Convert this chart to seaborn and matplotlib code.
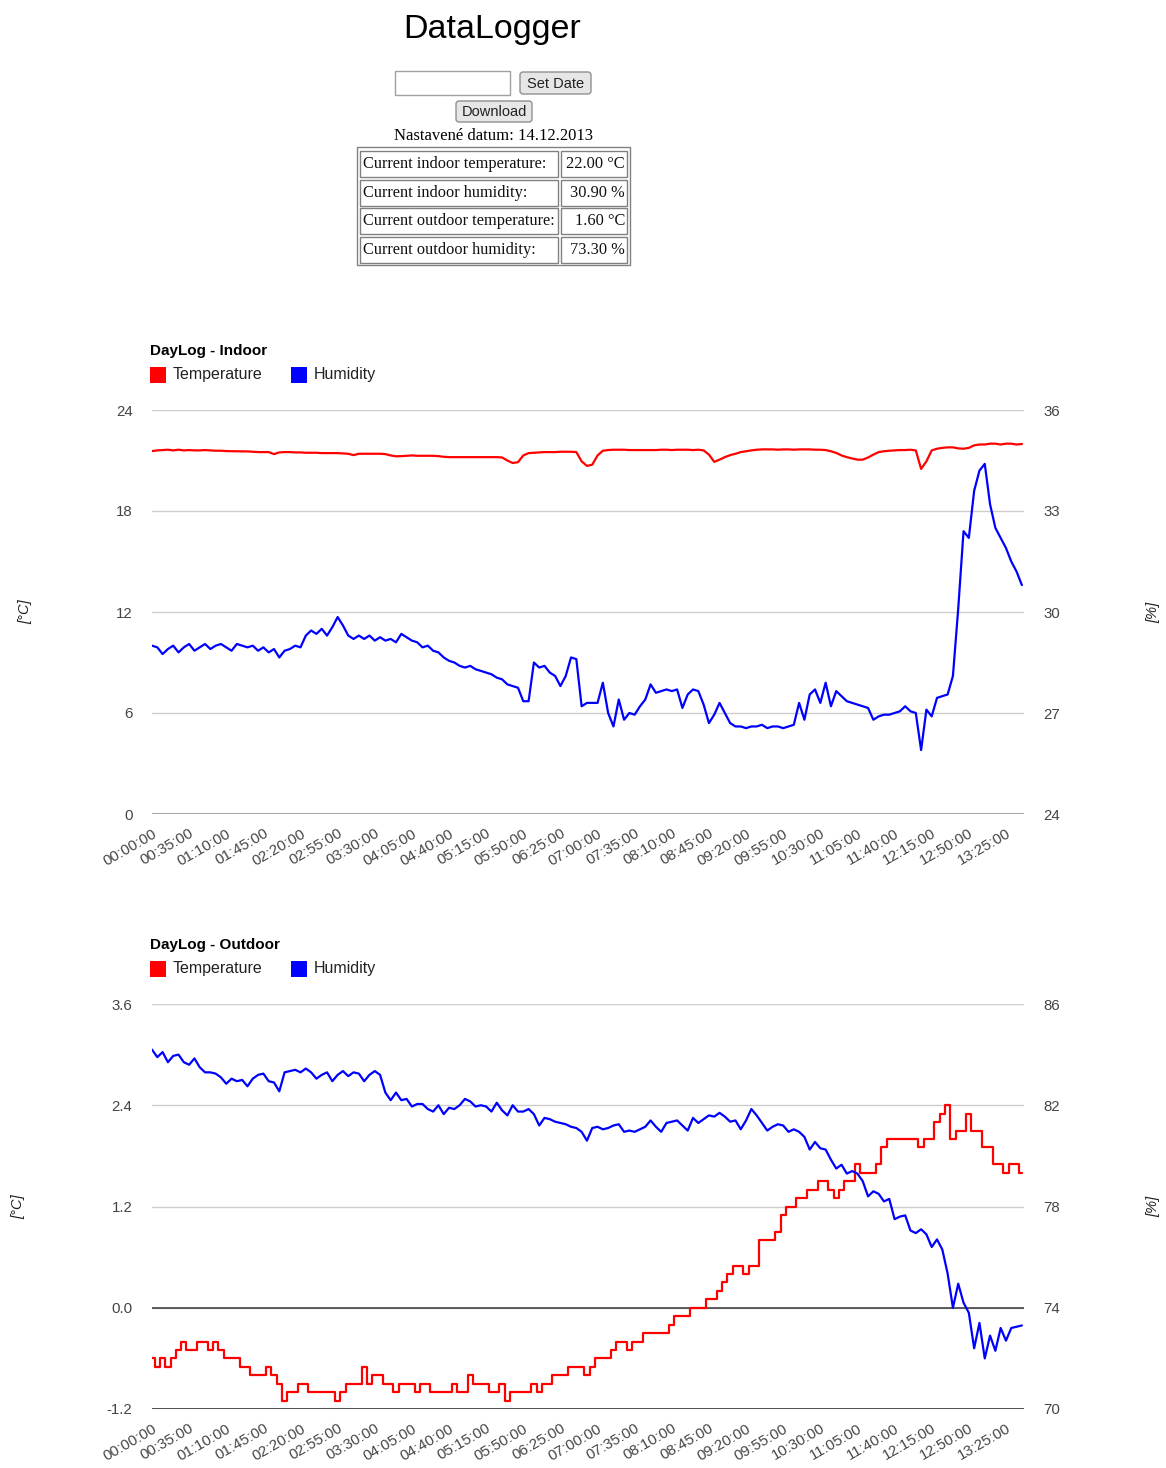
#!/usr/bin/env python3
"""DataLogger page - indoor/outdoor day log (14.12.2013)"""

import numpy as np
import pandas as pd
import matplotlib
matplotlib.use('Agg')
import matplotlib.pyplot as plt
from matplotlib.patches import Rectangle, FancyBboxPatch
from matplotlib.transforms import Affine2D
import seaborn as sns

# --- data (5 minute samples starting 00:00:00) ---
indoor_temp = [
    21.56, 21.6, 21.62, 21.64, 21.6, 21.64, 21.6, 21.62, 21.6, 21.6,
    21.62, 21.6, 21.58, 21.58, 21.56, 21.55, 21.55, 21.54, 21.54, 21.52,
    21.5, 21.5, 21.5, 21.38, 21.48, 21.5, 21.5, 21.48, 21.48, 21.46,
    21.46, 21.46, 21.44, 21.44, 21.44, 21.44, 21.42, 21.4, 21.32, 21.4,
    21.4, 21.4, 21.4, 21.4, 21.38, 21.3, 21.25, 21.26, 21.28, 21.3,
    21.28, 21.28, 21.28, 21.28, 21.26, 21.22, 21.2, 21.2, 21.2, 21.2,
    21.2, 21.2, 21.2, 21.2, 21.2, 21.2, 21.18, 21.0, 20.85, 20.9,
    21.3, 21.44, 21.46, 21.48, 21.5, 21.5, 21.5, 21.52, 21.52, 21.52,
    21.5, 20.95, 20.68, 20.75, 21.3, 21.58, 21.62, 21.64, 21.64, 21.64,
    21.62, 21.62, 21.62, 21.62, 21.62, 21.62, 21.64, 21.64, 21.62, 21.64,
    21.64, 21.64, 21.62, 21.64, 21.6, 21.35, 20.92, 21.05, 21.2, 21.32,
    21.4, 21.5, 21.55, 21.6, 21.64, 21.66, 21.66, 21.66, 21.64, 21.66,
    21.66, 21.64, 21.66, 21.66, 21.66, 21.64, 21.64, 21.62, 21.55, 21.45,
    21.3, 21.2, 21.12, 21.05, 21.05, 21.18, 21.35, 21.5, 21.55, 21.58,
    21.6, 21.62, 21.62, 21.64, 21.6, 20.5, 20.95, 21.6, 21.7, 21.75,
    21.78, 21.78, 21.72, 21.7, 21.75, 21.9, 21.95, 21.95, 22.0, 22.0,
    21.95, 22.0, 22.0, 21.95, 21.98,
]
indoor_humidity = [
    29.0, 28.95, 28.75, 28.9, 29.0, 28.8, 28.95, 29.05, 28.85, 28.95,
    29.05, 28.9, 29.0, 29.05, 28.95, 28.85, 29.05, 29.0, 28.95, 29.0,
    28.85, 28.95, 28.8, 28.9, 28.65, 28.85, 28.9, 29.0, 28.95, 29.3,
    29.45, 29.35, 29.5, 29.3, 29.55, 29.85, 29.6, 29.3, 29.2, 29.3,
    29.2, 29.3, 29.15, 29.25, 29.15, 29.2, 29.1, 29.35, 29.25, 29.15,
    29.1, 28.95, 29.0, 28.85, 28.8, 28.65, 28.55, 28.5, 28.4, 28.35,
    28.4, 28.3, 28.25, 28.2, 28.15, 28.05, 28.0, 27.85, 27.8, 27.75,
    27.35, 27.35, 28.5, 28.35, 28.4, 28.2, 28.1, 27.8, 28.1, 28.65,
    28.6, 27.2, 27.3, 27.3, 27.3, 27.9, 27.0, 26.6, 27.4, 26.8,
    27.0, 26.95, 27.2, 27.4, 27.85, 27.6, 27.65, 27.7, 27.65, 27.7,
    27.15, 27.55, 27.7, 27.65, 27.25, 26.7, 26.95, 27.3, 27.0, 26.7,
    26.6, 26.6, 26.55, 26.6, 26.6, 26.65, 26.55, 26.6, 26.6, 26.55,
    26.6, 26.65, 27.3, 26.8, 27.55, 27.7, 27.3, 27.9, 27.2, 27.65,
    27.5, 27.35, 27.3, 27.25, 27.2, 27.15, 26.8, 26.9, 26.95, 26.95,
    27.0, 27.05, 27.2, 27.05, 27.0, 25.9, 27.1, 26.9, 27.45, 27.5,
    27.55, 28.1, 30.1, 32.4, 32.2, 33.6, 34.2, 34.4, 33.2, 32.5,
    32.2, 31.9, 31.5, 31.2, 30.8,
]
outdoor_temp = [
    -0.6, -0.7, -0.6, -0.7, -0.6, -0.5, -0.4, -0.5, -0.5, -0.4,
    -0.4, -0.5, -0.4, -0.5, -0.6, -0.6, -0.6, -0.7, -0.7, -0.8,
    -0.8, -0.8, -0.7, -0.8, -0.9, -1.1, -1.0, -1.0, -0.9, -0.9,
    -1.0, -1.0, -1.0, -1.0, -1.0, -1.1, -1.0, -0.9, -0.9, -0.9,
    -0.7, -0.9, -0.8, -0.8, -0.9, -0.9, -1.0, -0.9, -0.9, -0.9,
    -1.0, -0.9, -0.9, -1.0, -1.0, -1.0, -1.0, -0.9, -1.0, -1.0,
    -0.8, -0.9, -0.9, -0.9, -1.0, -1.0, -0.9, -1.1, -1.0, -1.0,
    -1.0, -1.0, -0.9, -1.0, -0.9, -0.9, -0.8, -0.8, -0.8, -0.7,
    -0.7, -0.7, -0.8, -0.7, -0.6, -0.6, -0.6, -0.5, -0.4, -0.4,
    -0.5, -0.4, -0.4, -0.3, -0.3, -0.3, -0.3, -0.3, -0.2, -0.1,
    -0.1, -0.1, 0.0, 0.0, 0.0, 0.1, 0.1, 0.2, 0.3, 0.4,
    0.5, 0.5, 0.4, 0.5, 0.5, 0.8, 0.8, 0.8, 0.9, 1.1,
    1.2, 1.2, 1.3, 1.3, 1.4, 1.4, 1.5, 1.5, 1.4, 1.3,
    1.4, 1.5, 1.5, 1.7, 1.6, 1.6, 1.6, 1.7, 1.9, 2.0,
    2.0, 2.0, 2.0, 2.0, 2.0, 1.9, 2.0, 2.0, 2.2, 2.3,
    2.4, 2.0, 2.1, 2.1, 2.3, 2.1, 2.1, 1.9, 1.9, 1.7,
    1.7, 1.6, 1.7, 1.7, 1.6,
]
outdoor_humidity = [
    84.2, 83.9, 84.1, 83.7, 83.95, 84.0, 83.7, 83.6, 83.85, 83.5,
    83.3, 83.3, 83.25, 83.1, 82.85, 83.05, 82.95, 83.0, 82.75, 83.05,
    83.2, 83.25, 82.95, 82.9, 82.55, 83.3, 83.35, 83.4, 83.3, 83.45,
    83.3, 83.05, 83.2, 83.3, 82.95, 83.2, 83.35, 83.15, 83.3, 83.25,
    82.95, 83.2, 83.35, 83.2, 82.5, 82.2, 82.5, 82.2, 82.25, 81.95,
    82.05, 82.05, 81.85, 81.75, 82.0, 81.65, 81.9, 81.85, 82.0, 82.25,
    82.15, 81.95, 82.0, 81.95, 81.75, 82.1, 81.8, 81.6, 82.0, 81.75,
    81.75, 81.85, 81.65, 81.2, 81.5, 81.45, 81.35, 81.3, 81.25, 81.15,
    81.1, 80.95, 80.6, 81.1, 81.15, 81.05, 81.1, 81.2, 81.25, 80.95,
    81.0, 80.95, 81.05, 81.15, 81.4, 81.15, 80.95, 81.3, 81.35, 81.4,
    81.2, 81.0, 81.5, 81.3, 81.45, 81.6, 81.55, 81.7, 81.55, 81.35,
    81.4, 81.05, 81.4, 81.85, 81.6, 81.3, 81.0, 81.15, 81.25, 81.2,
    80.95, 81.05, 80.95, 80.75, 80.25, 80.55, 80.3, 80.25, 79.85, 79.5,
    79.65, 79.3, 79.4, 79.3, 79.0, 78.4, 78.6, 78.5, 78.2, 78.3,
    77.5, 77.6, 77.65, 77.05, 76.95, 77.1, 76.9, 76.4, 76.7, 76.3,
    75.35, 74.0, 74.95, 74.2, 73.8, 72.4, 73.4, 72.0, 72.9, 72.3,
    73.2, 72.7, 73.2, 73.25, 73.3,
]

tick_labels = [
    '00:00:00', '00:35:00', '01:10:00', '01:45:00', '02:20:00', '02:55:00',
    '03:30:00', '04:05:00', '04:40:00', '05:15:00', '05:50:00', '06:25:00',
    '07:00:00', '07:35:00', '08:10:00', '08:45:00', '09:20:00', '09:55:00',
    '10:30:00', '11:05:00', '11:40:00', '12:15:00', '12:50:00', '13:25:00',
]

table_rows = [
    ('Current indoor temperature:', '22.00 °C'),
    ('Current indoor humidity:', '30.90 %'),
    ('Current outdoor temperature:', '1.60 °C'),
    ('Current outdoor humidity:', '73.30 %'),
]

W, H = 1166, 1468
RED, BLUE = '#ff0000', '#0000ff'

sns.set_style('white')
plt.rcParams['font.family'] = ['Liberation Sans', 'DejaVu Sans']

fig = plt.figure(figsize=(W / 100, H / 100), dpi=100)
# pixel coordinates, origin top-left
pix = Affine2D().scale(1 / W, -1 / H).translate(0, 1) + fig.transFigure
SERIF = ['Liberation Serif', 'DejaVu Serif']

# --- page header ---
fig.text(492, 38, 'DataLogger', transform=pix, fontsize=24.5, ha='center', va='baseline',
         color='#000000')
fig.add_artist(Rectangle((395, 71), 115, 24, transform=pix, fc='white', ec='#a0a0a0', lw=1))


def button(x, y, w, h, label):
    fig.add_artist(FancyBboxPatch((x, y), w, h, boxstyle='round,pad=0,rounding_size=3',
                                  transform=pix, fc='#e6e6e6', ec='#8f8f8f', lw=1))
    fig.text(x + w / 2, y + h / 2 + 1, label, transform=pix, fontsize=10.5,
             ha='center', va='center', color='#222222')


button(520, 72, 71, 22, 'Set Date')
button(456, 101, 76, 21, 'Download')
fig.text(493, 136, 'Nastavené datum: 14.12.2013', transform=pix, family=SERIF,
         fontsize=12, ha='center', va='center', color='#000000')

fig.add_artist(Rectangle((357, 147), 273, 118, transform=pix, fc='none', ec='#808080', lw=1))
for i, (name, val) in enumerate(table_rows):
    y0 = 151 + i * 28.6
    fig.add_artist(Rectangle((360, y0), 198, 26, transform=pix, fc='none', ec='#808080', lw=1))
    fig.add_artist(Rectangle((561, y0), 66, 26, transform=pix, fc='none', ec='#808080', lw=1))
    fig.text(363, y0 + 13, name, transform=pix, family=SERIF, fontsize=11.8,
             ha='left', va='center', color='#111111')
    fig.text(625, y0 + 13, val, transform=pix, family=SERIF, fontsize=11.8,
             ha='right', va='center', color='#111111')


def draw_chart(top, bottom, title, temp, hum, t_ticks, t_fmt, h_ticks, ylab_x, zero_line, steps):
    ax = fig.add_axes([152 / W, 1 - bottom / H, (1024 - 152) / W, (bottom - top) / H])
    df = pd.DataFrame({'minute': np.arange(len(temp)) * 5, 'temp': temp, 'hum': hum})
    sns.lineplot(data=df, x='minute', y='temp', ax=ax, color=RED, linewidth=1.6,
                 errorbar=None, drawstyle='steps-mid' if steps else 'default')
    ax2 = ax.twinx()
    sns.lineplot(data=df, x='minute', y='hum', ax=ax2, color=BLUE, linewidth=1.6, errorbar=None)

    tick_pos = [int(s[:2]) * 60 + int(s[3:5]) for s in tick_labels]
    ax.set_xlim(0, 822)
    ax.set_ylim(t_ticks[0], t_ticks[-1])
    ax2.set_ylim(h_ticks[0], h_ticks[-1])
    ax.set_yticks(t_ticks)
    ax.set_yticklabels([t_fmt.format(v) for v in t_ticks])
    ax2.set_yticks(h_ticks)
    ax.set_xticks(tick_pos)
    ax.set_xticklabels(tick_labels, rotation=30, ha='right', rotation_mode='anchor')
    for a in (ax, ax2):
        a.set_xlabel('')
        a.set_ylabel('')
        for s in a.spines.values():
            s.set_visible(False)
    ax.grid(axis='y', color='#cccccc', linewidth=1)
    ax.grid(axis='x', visible=False)
    ax2.grid(False)
    ax.tick_params(axis='y', length=0, pad=14, labelsize=10.8, labelcolor='#444444')
    ax2.tick_params(axis='y', length=0, pad=14, labelsize=10.8, labelcolor='#444444')
    ax.tick_params(axis='x', length=0, pad=9, labelsize=10.8, labelcolor='#444444')
    if zero_line:
        ax.axhline(0, color='#444444', linewidth=1.2, zorder=1)
        ax.axhline(t_ticks[0], color='#333333', linewidth=1.2, zorder=1)
    else:
        ax.axhline(t_ticks[0], color='#8c8c8c', linewidth=1.8, zorder=1)

    # title + legend
    fig.text(150, top - 55, title, transform=pix, fontsize=11, fontweight='bold',
             ha='left', va='baseline', color='#000000')
    fig.add_artist(Rectangle((150, top - 43), 16, 16, transform=pix, fc=RED, ec='none'))
    fig.text(173, top - 35, 'Temperature', transform=pix, fontsize=11.5, ha='left',
             va='center', color='#222222')
    fig.add_artist(Rectangle((291, top - 43), 16, 16, transform=pix, fc=BLUE, ec='none'))
    fig.text(314, top - 35, 'Humidity', transform=pix, fontsize=11.5, ha='left',
             va='center', color='#222222')

    mid = (top + bottom) / 2
    fig.text(ylab_x, mid, '[°C]', transform=pix, fontsize=10.5, style='italic',
             rotation=90, ha='center', va='center', color='#222222')
    fig.text(1153, mid, '[%]', transform=pix, fontsize=10.5, style='italic',
             rotation=90, ha='center', va='center', color='#222222')
    return ax


draw_chart(410, 814, 'DayLog - Indoor', indoor_temp, indoor_humidity,
           [0, 6, 12, 18, 24], '{:d}', [24, 27, 30, 33, 36], 25, False, False)
draw_chart(1004, 1409, 'DayLog - Outdoor', outdoor_temp, outdoor_humidity,
           [-1.2, 0.0, 1.2, 2.4, 3.6], '{:.1f}', [70, 74, 78, 82, 86], 18, True, True)

fig.savefig('out.png', dpi=100)
print('saved out.png')
